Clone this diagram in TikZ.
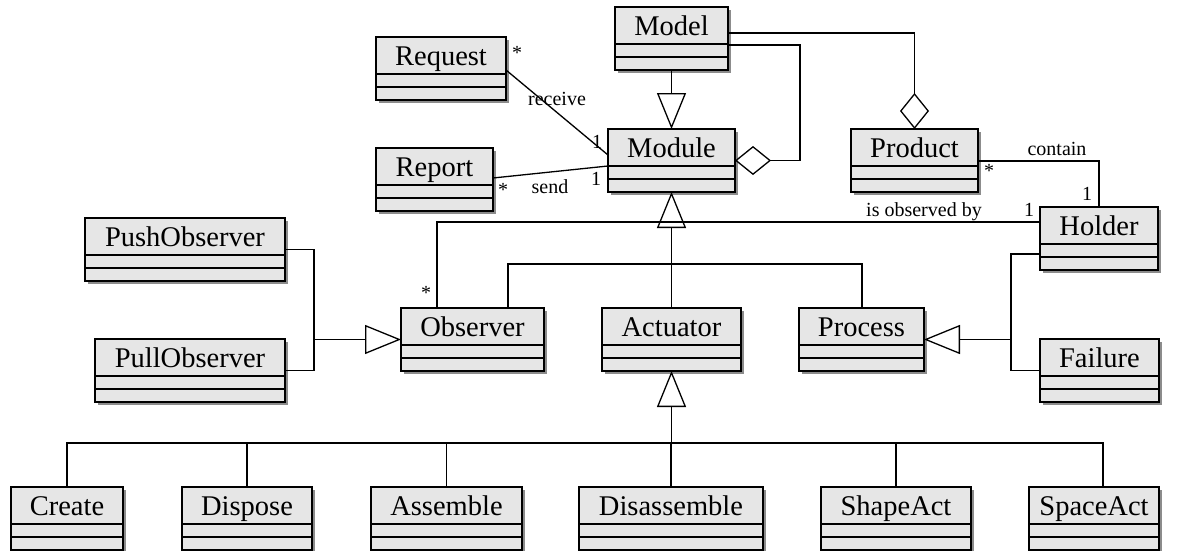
\documentclass[tikz,border=0pt]{standalone}
\usepackage{fontspec}
\setmainfont{Liberation Serif}
\usetikzlibrary{arrows.meta,calc,shadows}
\definecolor{boxfill}{HTML}{E6E6E6}
\definecolor{boxshade}{HTML}{8C8C8C}
\begin{document}
\begin{tikzpicture}[x=1pt,y=-1pt,
  line width=1.3pt,
  cls/.style={draw, fill=boxfill, anchor=north west, inner sep=0pt, outer sep=0pt,
    minimum height=63pt, text height=20pt, text depth=26pt,
    font=\fontsize{28.5}{30}\selectfont,
    drop shadow={shadow xshift=3pt, shadow yshift=-3pt, fill=boxshade, opacity=1},
    path picture={
      \draw[line width=1.3pt] ([yshift=-37pt]path picture bounding box.north west) -- ([yshift=-37pt]path picture bounding box.north east);
      \draw[line width=1.3pt] ([yshift=-50pt]path picture bounding box.north west) -- ([yshift=-50pt]path picture bounding box.north east);}},
  lbl/.style={font=\fontsize{20}{22}\selectfont, inner sep=0pt, anchor=base},
  star/.style={font=\fontsize{20}{22}\selectfont, inner sep=0pt, anchor=center},
  gen/.style={-{Triangle[open,length=36pt,width=29pt]}},
  agg/.style={{Diamond[open,length=36pt,width=29pt]}-},
]
\fill[white] (0,0) rectangle (1178,551);
\useasboundingbox (0,0) rectangle (1178,551);

% classes
\node[cls, minimum width=113pt] (Model) at (615,7) {Model};
\node[cls, minimum width=130pt] (Request) at (376,37) {Request};
\node[cls, minimum width=117pt] (Report) at (376,148) {Report};
\node[cls, minimum width=127pt] (Module) at (608,129) {Module};
\node[cls, minimum width=127pt] (Product) at (851,129) {Product};
\node[cls, minimum width=118pt] (Holder) at (1040,207) {Holder};
\node[cls, minimum width=200pt] (PushObserver) at (85,218) {PushObserver};
\node[cls, minimum width=190pt] (PullObserver) at (95,339) {PullObserver};
\node[cls, minimum width=143pt] (Observer) at (401,308) {Observer};
\node[cls, minimum width=139pt] (Actuator) at (602,308) {Actuator};
\node[cls, minimum width=125pt] (Process) at (799,308) {Process};
\node[cls, minimum width=119pt] (Failure) at (1040,339) {Failure};
\node[cls, minimum width=112pt] (Create) at (11,487) {Create};
\node[cls, minimum width=130pt] (Dispose) at (182,487) {Dispose};
\node[cls, minimum width=151pt] (Assemble) at (371,487) {Assemble};
\node[cls, minimum width=184pt] (Disassemble) at (579,487) {Disassemble};
\node[cls, minimum width=150pt] (ShapeAct) at (821,487) {ShapeAct};
\node[cls, minimum width=130pt] (SpaceAct) at (1029,487) {SpaceAct};

% Model
\draw[gen] (Model.south) -- (Module.north);
\draw[agg] (Module.east) -- ++(65,0) |- ($(Model.north east)+(0,38)$);
\draw[agg] (Product.north) |- ($(Model.north east)+(0,26)$);

% associations
\draw ($(Request.north east)+(0,33)$) -- ($(Module.north west)+(0,26)$);
\draw ($(Report.north east)+(0,30)$) -- ($(Module.north west)+(0,37)$);
\draw ($(Product.north east)+(0,32)$) -| (Holder.north);
\draw ($(Holder.north west)+(0,15)$) -| ($(Observer.north west)+(36,0)$);

% Module specialisations
\draw[gen] (Actuator.north) -- (Module.south);
\draw ($(Observer.north west)+(107,0)$) -- ++(0,-44) -| ($(Process.north west)+(63,0)$);

% Process specialisations
\coordinate (pj) at (1011,339.5);
\draw ($(Holder.north west)+(0,47)$) -| (pj) |- (Failure.west);
\draw[gen] (pj) -- (Process.east);

% Observer specialisations
\coordinate (oj) at (314,339.5);
\draw (PushObserver.east) -| (oj) |- (PullObserver.east);
\draw[gen] (oj) -- (Observer.west);

% Actuator specialisations
\coordinate (aj) at (671.5,443);
\draw[gen] (aj) -- (Actuator.south);
\draw (Create.north) |- (aj) -| ($(SpaceAct.north west)+(74,0)$);
\foreach \n in {Dispose,Assemble,Disassemble,ShapeAct}
  \draw (\n.north) -- (\n.north |- aj);

% role names and multiplicities
\node[star] (mReqStar) at (517,53) {*};
\node[lbl] (mReceive) at (557,106) {receive};
\node[lbl] (mReqOne) at (597,148) {1};
\node[star] (mRepStar) at (503,190) {*};
\node[lbl] (mSend) at (550,193) {send};
\node[lbl] (mRepOne) at (596,185) {1};
\node[lbl] (mContain) at (1057,155) {contain};
\node[star] (mProdStar) at (989,171) {*};
\node[lbl] (mHoldOne) at (1087,200) {1};
\node[lbl] (mObsBy) at (924,216) {is observed by};
\node[lbl] (mObsOne) at (1029,216) {1};
\node[star] (mObsStar) at (426,293) {*};
\end{tikzpicture}
\end{document}
